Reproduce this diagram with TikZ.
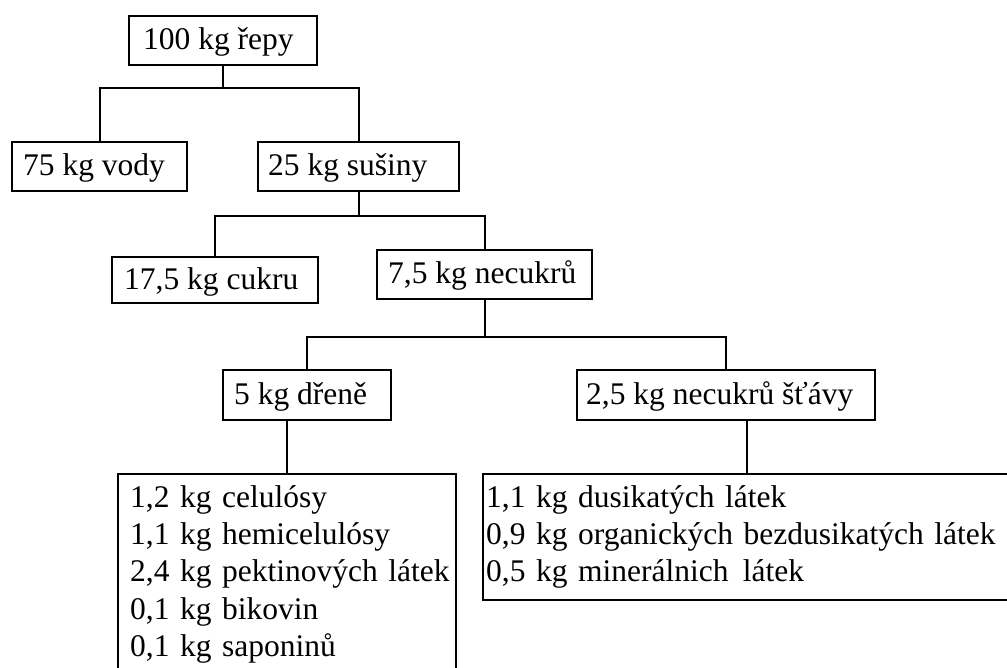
\documentclass[tikz,border=0pt]{standalone}
\usepackage{fontspec}
\setmainfont{Liberation Serif}
\newcommand{\leftbx}[2]{\makebox[#1][l]{#2}}
\newcommand{\xsp}{\hspace{0.12em}}
\begin{document}
\begin{tikzpicture}[x=0.5pt,y=-0.5pt,
  every node/.style={font=\fontsize{15.75}{18.7}\selectfont},
  onebox/.style={draw, line width=1.2pt, anchor=north west, inner ysep=0pt,
    text height=10.5pt, text depth=1.5pt},
  multibox/.style={draw, line width=1.2pt, anchor=north west, inner ysep=5.5pt, align=left},
  conn/.style={line width=1pt}]
\useasboundingbox (0,0) rectangle (1007,668);
% level 0
\node[onebox, minimum height=24.5pt, inner xsep=7pt] (b1) at (128,15) {\leftbx{80pt}{100 kg řepy}};
% level 1
\node[onebox, minimum height=24.5pt, inner xsep=5.5pt] (b2) at (11,141) {\leftbx{76.5pt}{75 kg vody}};
\node[onebox, minimum height=24.5pt, inner xsep=5pt] (b3) at (257,141) {\leftbx{90.5pt}{25 kg sušiny}};
% level 2
\node[onebox, minimum height=23pt, inner xsep=6pt] (b4) at (111,256) {\leftbx{91pt}{17,5 kg cukru}};
\node[onebox, minimum height=24.5pt, inner xsep=5.5pt] (b5) at (376,249) {\leftbx{96.5pt}{7,5 kg necukrů}};
% level 3
\node[onebox, minimum height=25pt, inner xsep=5.5pt] (b6) at (222,369) {\leftbx{73pt}{5 kg dřeně}};
\node[onebox, minimum height=25pt, inner xsep=4.5pt] (b7) at (576,369) {\leftbx{140pt}{2,5 kg necukrů šťávy}};
% level 4
\node[multibox, text width=157pt, inner xsep=6pt] (b8) at (117,473)
  {\mbox{1,2 kg celulósy}\\ \mbox{1,1 kg hemicelulósy}\\ \mbox{2,4 kg pektinových látek}\\ \mbox{0,1 kg bikovin}\\ \mbox{0,1 kg saponinů}};
\node[multibox, text width=260.5pt, inner xsep=1.5pt] (b9) at (482,473)
  {\mbox{1,1 kg dusikatých látek}\\ \mbox{0,9 kg organických bezdusikatých látek}\\ \mbox{0,5 kg minerálnich\xsp{} látek}};
% connectors
\coordinate (y1) at (0,88);
\coordinate (j1) at (b1.south |- y1);
\draw[conn] (b1.south) -- (j1);
\draw[conn] (b2.north) |- (j1) -| (b3.north);
\coordinate (y2) at (0,216);
\coordinate (j2) at (b3.south |- y2);
\draw[conn] (b3.south) -- (j2);
\draw[conn] (b4.north) |- (j2) -| (b5.north);
\coordinate (y3) at (0,337);
\coordinate (j3) at (b5.south |- y3);
\draw[conn] (b5.south) -- (j3);
\draw[conn] (b6.north) |- (j3) -| (b7.north);
\draw[conn] (b8.north) -- (b8.north |- b6.south);
\draw[conn] (b9.north) -- (b9.north |- b7.south);
\end{tikzpicture}
\end{document}
